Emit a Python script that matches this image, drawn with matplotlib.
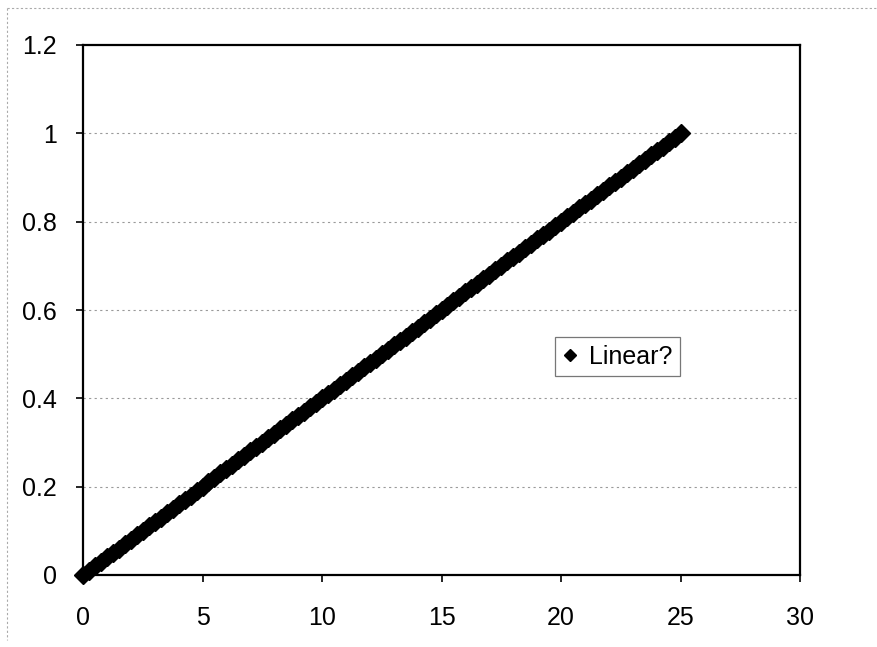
import matplotlib
matplotlib.use("Agg")
import matplotlib.pyplot as plt
from matplotlib.lines import Line2D

plt.rcParams['font.family'] = ['Liberation Sans', 'DejaVu Sans']

series_name = "Linear?"
x_vals = [0, 0.25, 0.5, 0.75, 1, 1.25, 1.5, 1.75, 2, 2.25, 2.5, 2.75, 3, 3.25, 3.5, 3.75,
          4, 4.25, 4.5, 4.75, 5, 5.25, 5.5, 5.75, 6, 6.25, 6.5, 6.75, 7, 7.25, 7.5, 7.75,
          8, 8.25, 8.5, 8.75, 9, 9.25, 9.5, 9.75, 10, 10.25, 10.5, 10.75, 11, 11.25, 11.5, 11.75,
          12, 12.25, 12.5, 12.75, 13, 13.25, 13.5, 13.75, 14, 14.25, 14.5, 14.75, 15, 15.25, 15.5, 15.75,
          16, 16.25, 16.5, 16.75, 17, 17.25, 17.5, 17.75, 18, 18.25, 18.5, 18.75, 19, 19.25, 19.5, 19.75,
          20, 20.25, 20.5, 20.75, 21, 21.25, 21.5, 21.75, 22, 22.25, 22.5, 22.75, 23, 23.25, 23.5, 23.75,
          24, 24.25, 24.5, 24.75, 25]
y_vals = [0.00, 0.01, 0.02, 0.03, 0.04, 0.05, 0.06, 0.07, 0.08, 0.09, 0.10, 0.11, 0.12, 0.13, 0.14, 0.15,
          0.16, 0.17, 0.18, 0.19, 0.20, 0.21, 0.22, 0.23, 0.24, 0.25, 0.26, 0.27, 0.28, 0.29, 0.30, 0.31,
          0.32, 0.33, 0.34, 0.35, 0.36, 0.37, 0.38, 0.39, 0.40, 0.41, 0.42, 0.43, 0.44, 0.45, 0.46, 0.47,
          0.48, 0.49, 0.50, 0.51, 0.52, 0.53, 0.54, 0.55, 0.56, 0.57, 0.58, 0.59, 0.60, 0.61, 0.62, 0.63,
          0.64, 0.65, 0.66, 0.67, 0.68, 0.69, 0.70, 0.71, 0.72, 0.73, 0.74, 0.75, 0.76, 0.77, 0.78, 0.79,
          0.80, 0.81, 0.82, 0.83, 0.84, 0.85, 0.86, 0.87, 0.88, 0.89, 0.90, 0.91, 0.92, 0.93, 0.94, 0.95,
          0.96, 0.97, 0.98, 0.99, 1.00]
x_ticks = [0, 5, 10, 15, 20, 25, 30]
y_ticks = [0, 0.2, 0.4, 0.6, 0.8, 1, 1.2]
y_tick_labels = ["0", "0.2", "0.4", "0.6", "0.8", "1", "1.2"]

fig = plt.figure(figsize=(8.77, 6.47), dpi=100)
ax = fig.add_axes([83/877, 1-575/647, (800-83)/877, (575-45)/647])

for yv in y_ticks[1:-1]:
    ax.axhline(yv, color='#9a9a9a', linewidth=0.8, linestyle=(0, (2, 3)), zorder=1)

ax.plot(x_vals, y_vals, linestyle='none', marker='D', markersize=8.8, color='black',
        markeredgecolor='black', zorder=3, clip_on=False)

ax.set_xlim(0, 30)
ax.set_ylim(0, 1.2)
ax.set_xticks(x_ticks)
ax.set_xticklabels([str(t) for t in x_ticks])
ax.set_yticks(y_ticks)
ax.set_yticklabels(y_tick_labels)
ax.tick_params(axis='both', direction='out', length=5, width=1.2, labelsize=18, colors='black')
ax.tick_params(axis='x', pad=17)
ax.tick_params(axis='y', pad=14)
for sp in ax.spines.values():
    sp.set_linewidth(1.6)
    sp.set_color('black')

handle = Line2D([], [], linestyle='none', marker='D', markersize=6.5, color='black')
leg = ax.legend([handle], [series_name], loc='lower left',
                bbox_to_anchor=((555-83)/717, (575-376)/530), borderaxespad=0,
                fontsize=18, frameon=True, fancybox=False, handlelength=0.6,
                handletextpad=0.45, borderpad=0.3)
leg.get_frame().set_edgecolor('#555555')
leg.get_frame().set_linewidth(0.9)

# faint outer chart-area border
fig.add_artist(Line2D([7/877, 1.0], [1-8/647, 1-8/647], transform=fig.transFigure,
                      color='#aaaaaa', linewidth=0.8, linestyle=(0, (2, 2))))
fig.add_artist(Line2D([7/877, 7/877], [1-8/647, 1-640/647], transform=fig.transFigure,
                      color='#aaaaaa', linewidth=0.8, linestyle=(0, (2, 2))))

fig.savefig("out.png", dpi=100)
